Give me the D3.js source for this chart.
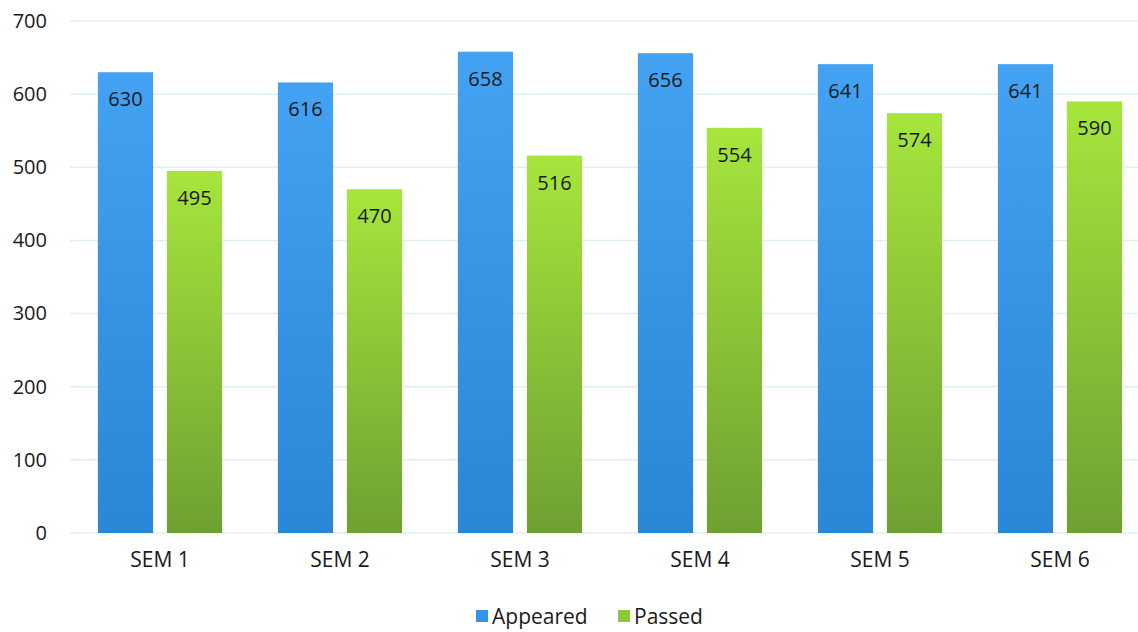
<!DOCTYPE html>
<html>
<head>
<meta charset="utf-8">
<script src="https://cdn.jsdelivr.net/npm/d3@7"></script>
<style>
  body { margin: 0; background: #fff; }
  svg text { font-family: "Open Sans", "Lato", sans-serif; fill: #1a1a1a; }
</style>
</head>
<body>
<div id="chart"></div>
<script>
const categories = ['SEM 1', 'SEM 2', 'SEM 3', 'SEM 4', 'SEM 5', 'SEM 6'];
const seriesNames = ['Appeared', 'Passed'];
const appeared = [630, 616, 658, 656, 641, 641];
const passed = [495, 470, 516, 554, 574, 590];
const yTicks = [0, 100, 200, 300, 400, 500, 600, 700];

const width = 1138, height = 632;
const font = '"Open Sans", "Lato", sans-serif';
const svg = d3.select('#chart').append('svg')
    .attr('width', width)
    .attr('height', height);

const defs = svg.append('defs');
const grads = [
    { id: 'gBlue', top: '#44a2f2', bottom: '#2a86d6' },
    { id: 'gGreen', top: '#a6e63c', bottom: '#6fa032' }
];
grads.forEach(g => {
    const lg = defs.append('linearGradient')
        .attr('id', g.id).attr('x1', 0).attr('y1', 0).attr('x2', 0).attr('y2', 1);
    lg.append('stop').attr('offset', '0%').attr('stop-color', g.top);
    lg.append('stop').attr('offset', '100%').attr('stop-color', g.bottom);
});
const fills = ['url(#gBlue)', 'url(#gGreen)'];
const legendColors = ['#3592e4', '#8cc63a'];

const x = d3.scaleBand().domain(categories).range([70, 1150]).paddingInner(0.31).paddingOuter(0.155);
const xs = d3.scaleBand().domain(seriesNames).range([0, x.bandwidth()]).paddingInner(0.2);
const y = d3.scaleLinear().domain([0, 700]).range([533, 21]);

// gridlines
svg.append('g')
    .selectAll('line')
    .data(yTicks)
    .enter().append('line')
    .attr('x1', 70).attr('x2', 1138)
    .attr('y1', d => y(d)).attr('y2', d => y(d))
    .attr('stroke', '#dff0f0')
    .attr('stroke-width', 1.5);

// y axis labels
const yAxis = svg.append('g')
    .attr('transform', 'translate(47,0)')
    .call(d3.axisLeft(y).tickValues(yTicks).tickSize(0).tickPadding(0));
yAxis.select('.domain').remove();
yAxis.selectAll('text').attr('font-size', 20).style('font-family', font).attr('fill', '#1a1a1a');

// x axis labels
const xAxis = svg.append('g')
    .attr('transform', 'translate(0,552)')
    .call(d3.axisBottom(x).tickSize(0).tickPadding(0));
xAxis.select('.domain').remove();
xAxis.selectAll('text').attr('font-size', 21).style('font-family', font).attr('fill', '#1a1a1a');

const rows = categories.map((c, i) => ({ cat: c, vals: [appeared[i], passed[i]] }));

const groups = svg.selectAll('.grp')
    .data(rows)
    .enter().append('g')
    .attr('class', 'grp')
    .attr('transform', d => `translate(${x(d.cat)},0)`);

groups.selectAll('rect')
    .data(d => d.vals.map((v, k) => ({ v, k })))
    .enter().append('rect')
    .attr('x', d => xs(seriesNames[d.k]))
    .attr('y', d => y(d.v))
    .attr('width', xs.bandwidth())
    .attr('height', d => y(0) - y(d.v))
    .attr('fill', d => fills[d.k]);

groups.selectAll('text.val')
    .data(d => d.vals.map((v, k) => ({ v, k })))
    .enter().append('text')
    .attr('class', 'val')
    .attr('x', d => xs(seriesNames[d.k]) + xs.bandwidth() / 2)
    .attr('y', d => y(d.v) + 34)
    .attr('text-anchor', 'middle')
    .attr('font-size', 20)
    .text(d => d.v);

// legend
const legend = svg.append('g').attr('transform', 'translate(476,616)');
const legendX = [0, 142];
seriesNames.forEach((s, i) => {
    const g = legend.append('g').attr('transform', `translate(${legendX[i]},0)`);
    g.append('rect').attr('x', 0).attr('y', -6).attr('width', 12).attr('height', 12).attr('fill', legendColors[i]);
    g.append('text').attr('x', 16).attr('y', 7.5).attr('font-size', 21).text(s);
});
</script>
</body>
</html>
